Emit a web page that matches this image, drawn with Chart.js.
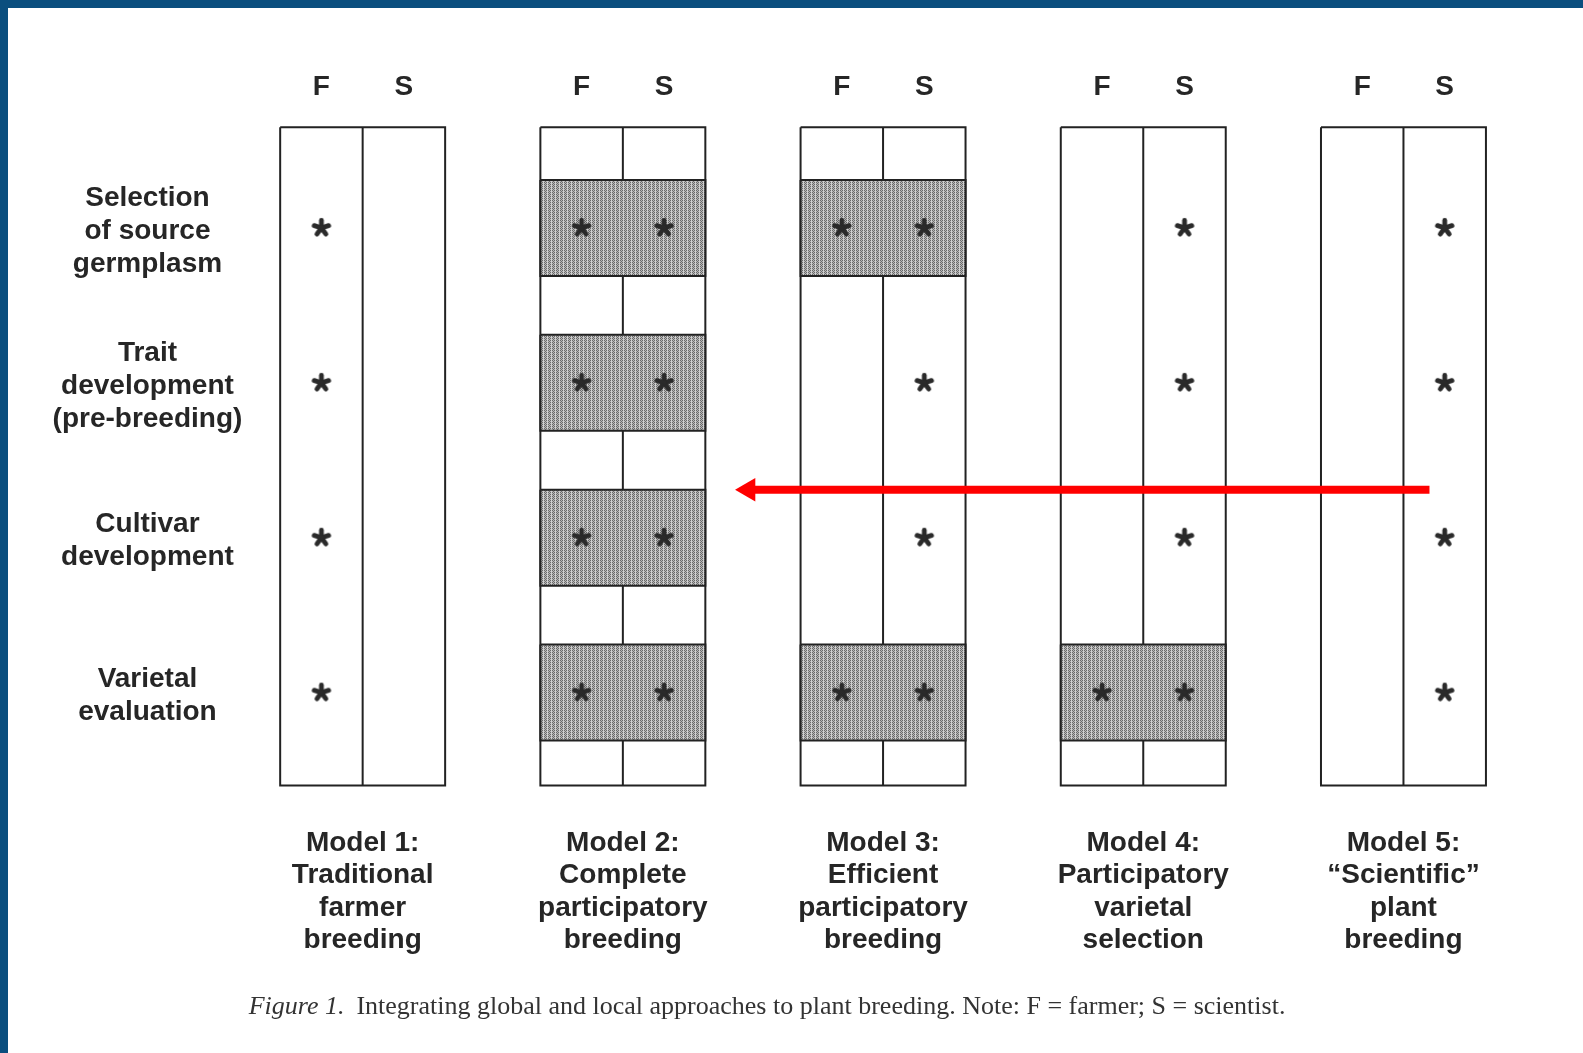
<!DOCTYPE html>
<html>
<head>
<meta charset="utf-8">
<script src="https://cdn.jsdelivr.net/npm/chart.js@4.4.1/dist/chart.umd.min.js"></script>
<style>
  html, body { margin: 0; padding: 0; background: #0a4e7e; }
  #frame { position: absolute; left: 8px; top: 8px; width: 1575px; height: 1045px; background: #fff; }
</style>
</head>
<body>
<div id="frame"><canvas id="myChart" width="1575" height="1045"></canvas></div>
<script>
'use strict';

var models = [
    ['Model 1:', 'Traditional', 'farmer', 'breeding'],
    ['Model 2:', 'Complete', 'participatory', 'breeding'],
    ['Model 3:', 'Efficient', 'participatory', 'breeding'],
    ['Model 4:', 'Participatory', 'varietal', 'selection'],
    ['Model 5:', '\u201cScientific\u201d', 'plant', 'breeding']
];
var stages = [
    ['Selection', 'of source', 'germplasm'],
    ['Trait', 'development', '(pre-breeding)'],
    ['Cultivar', 'development'],
    ['Varietal', 'evaluation']
];
var roles = ['F', 'S'];
// 1 = takes part in the stage; one row per model, one column per stage
var farmer = [
    [1, 1, 1, 1],
    [1, 1, 1, 1],
    [1, 0, 0, 1],
    [0, 0, 0, 1],
    [0, 0, 0, 0]
];
var scientist = [
    [0, 0, 0, 0],
    [1, 1, 1, 1],
    [1, 1, 1, 1],
    [1, 1, 1, 1],
    [1, 1, 1, 1]
];
var captionItalic = 'Figure 1.';
var captionText = 'Integrating global and local approaches to plant breeding. Note: F = farmer; S = scientist.';
// red arrow, in model / stage units
var arrowFrom = { x: 4.10, y: 1.69 };
var arrowTo = { x: 1.483, y: 1.69 };

// layout (model units across, stage units down)
var COL = 0.317;
var BOX_TOP = -0.65, BOX_BOTTOM = 3.60, BAND = 0.31;
var STAGE_X = -0.827, STAGE_DY = 0.02, HEAD_Y = -0.91, NAME_Y = 3.97;
var CAPTION_X = 1.554, CAPTION_Y = 5.03;
var INK = '#222';

function makeShade() {
    var c = document.createElement('canvas');
    c.width = 4; c.height = 2;
    var g = c.getContext('2d');
    var px = [['#6a6a6a', '#b8b8b8', '#6a6a6a', '#d0d0d0'],
              ['#b8b8b8', '#6a6a6a', '#b8b8b8', '#d0d0d0']];
    px.forEach(function (row, y) {
        row.forEach(function (col, x) { g.fillStyle = col; g.fillRect(x, y, 1, 1); });
    });
    return g.createPattern(c, 'repeat');
}

function makeAsterisk() {
    var c = document.createElement('canvas');
    c.width = 24; c.height = 24;
    var g = c.getContext('2d');
    g.strokeStyle = '#2a2a2a';
    g.lineWidth = 4.8;
    g.lineCap = 'round';
    g.translate(12, 12);
    for (var k = 0; k < 5; k++) {
        var a = k * 2 * Math.PI / 5;
        g.beginPath();
        g.moveTo(0, 0);
        g.lineTo(Math.sin(a) * 7.6, -Math.cos(a) * 7.6);
        g.stroke();
    }
    return c;
}

var shade = makeShade();

function rect(x0, x1, y0, y1, filled, order) {
    return {
        type: 'line',
        data: [{x: x0, y: y0}, {x: x1, y: y0}, {x: x1, y: y1}, {x: x0, y: y1}, {x: x0, y: y0}],
        borderColor: INK,
        borderWidth: 2,
        backgroundColor: filled ? shade : 'transparent',
        fill: filled ? 'shape' : false,
        pointRadius: 0,
        order: order
    };
}

var datasets = [];
var stars = [];
models.forEach(function (m, i) {
    datasets.push(rect(i - COL, i + COL, BOX_TOP, BOX_BOTTOM, false, 3));
    datasets.push({
        type: 'line',
        data: [{x: i, y: BOX_TOP}, {x: i, y: BOX_BOTTOM}],
        borderColor: INK,
        borderWidth: 2,
        pointRadius: 0,
        order: 4
    });
    stages.forEach(function (s, j) {
        if (farmer[i][j] && scientist[i][j]) {
            datasets.push(rect(i - COL, i + COL, j - BAND, j + BAND, true, 2));
        }
        if (farmer[i][j]) stars.push({x: i - COL / 2, y: j});
        if (scientist[i][j]) stars.push({x: i + COL / 2, y: j});
    });
});

datasets.push({
    type: 'line',
    data: [arrowFrom, arrowTo],
    borderColor: '#ff0000',
    borderWidth: 8,
    borderCapStyle: 'butt',
    pointRadius: [0, 13.5],
    pointStyle: 'triangle',
    rotation: -90,
    pointBackgroundColor: '#ff0000',
    pointBorderWidth: 0,
    order: 1
});

datasets.push({
    type: 'scatter',
    data: stars,
    pointStyle: makeAsterisk(),
    pointRadius: 5,
    order: 0
});

var texts = {
    id: 'texts',
    afterDatasetsDraw: function (chart) {
        var ctx = chart.ctx, xs = chart.scales.x, ys = chart.scales.y;
        ctx.save();
        ctx.fillStyle = '#262626';
        ctx.textAlign = 'center';
        ctx.textBaseline = 'middle';
        ctx.font = 'bold 28px "Liberation Sans", Arial, sans-serif';
        models.forEach(function (m, i) {
            roles.forEach(function (r, k) {
                ctx.fillText(r, xs.getPixelForValue(i + (k ? 1 : -1) * COL / 2), ys.getPixelForValue(HEAD_Y));
            });
            m.forEach(function (t, n) {
                ctx.fillText(t, xs.getPixelForValue(i), ys.getPixelForValue(NAME_Y) + n * 32.6);
            });
        });
        stages.forEach(function (s, j) {
            var y0 = ys.getPixelForValue(j + STAGE_DY) - (s.length - 1) * 33 / 2;
            s.forEach(function (t, n) {
                ctx.fillText(t, xs.getPixelForValue(STAGE_X), y0 + n * 33);
            });
        });

        // caption
        var italic = 'italic 26px "Liberation Serif", "Times New Roman", serif';
        var upright = '26px "Liberation Serif", "Times New Roman", serif';
        ctx.font = italic;
        var w1 = ctx.measureText(captionItalic).width;
        ctx.font = upright;
        var w2 = ctx.measureText(captionText).width;
        var gap = 12;
        var left = xs.getPixelForValue(CAPTION_X) - (w1 + gap + w2) / 2;
        var cy = ys.getPixelForValue(CAPTION_Y);
        ctx.fillStyle = '#333';
        ctx.textAlign = 'left';
        ctx.font = italic;
        ctx.fillText(captionItalic, left, cy);
        ctx.font = upright;
        ctx.fillText(captionText, left + w1 + gap, cy);
        ctx.restore();
    }
};

var ctx = document.getElementById('myChart').getContext('2d');
var chart = new Chart(ctx, {
    type: 'scatter',
    data: { datasets: datasets },
    plugins: [texts],
    options: {
        responsive: false,
        animation: false,
        events: [],
        layout: { padding: 0, autoPadding: false },
        elements: { line: { tension: 0 } },
        plugins: {
            legend: { display: false },
            tooltip: { enabled: false }
        },
        scales: {
            x: { type: 'linear', display: false, min: -1.363, max: 4.690 },
            y: { type: 'linear', display: false, reverse: true, min: -1.420, max: 5.327 }
        }
    }
});
</script>
</body>
</html>
